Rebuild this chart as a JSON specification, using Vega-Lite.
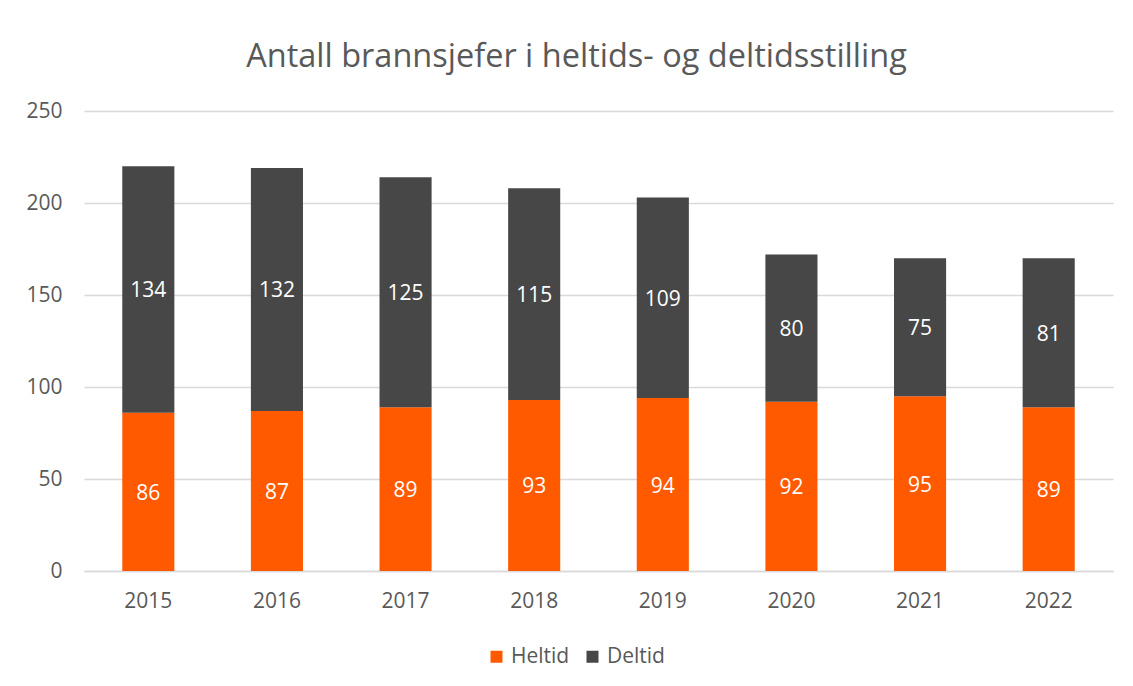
{
  "$schema": "https://vega.github.io/schema/vega-lite/v6.json",
  "autosize": "none",
  "width": 1029,
  "height": 460,
  "padding": {"left": 84, "top": 111, "right": 20, "bottom": 115},
  "background": "white",
  "title": {
    "text": "Antall brannsjefer i heltids- og deltidsstilling",
    "fontSize": 32.5,
    "font": "Open Sans",
    "fontWeight": "normal",
    "color": "#595959",
    "anchor": "middle",
    "dx": -22,
    "baseline": "alphabetic",
    "offset": 1
  },
  "data": {
    "values": [
      {"year": "2015", "type": "Heltid", "value": 86, "order": 1},
      {"year": "2015", "type": "Deltid", "value": 134, "order": 2},
      {"year": "2016", "type": "Heltid", "value": 87, "order": 1},
      {"year": "2016", "type": "Deltid", "value": 132, "order": 2},
      {"year": "2017", "type": "Heltid", "value": 89, "order": 1},
      {"year": "2017", "type": "Deltid", "value": 125, "order": 2},
      {"year": "2018", "type": "Heltid", "value": 93, "order": 1},
      {"year": "2018", "type": "Deltid", "value": 115, "order": 2},
      {"year": "2019", "type": "Heltid", "value": 94, "order": 1},
      {"year": "2019", "type": "Deltid", "value": 109, "order": 2},
      {"year": "2020", "type": "Heltid", "value": 92, "order": 1},
      {"year": "2020", "type": "Deltid", "value": 80, "order": 2},
      {"year": "2021", "type": "Heltid", "value": 95, "order": 1},
      {"year": "2021", "type": "Deltid", "value": 75, "order": 2},
      {"year": "2022", "type": "Heltid", "value": 89, "order": 1},
      {"year": "2022", "type": "Deltid", "value": 81, "order": 2}
    ]
  },
  "encoding": {
    "x": {
      "field": "year",
      "type": "nominal",
      "scale": {"paddingInner": 0.595, "paddingOuter": 0.2975},
      "axis": {
        "title": null,
        "labelAngle": 0,
        "labelFontSize": 21,
        "labelFont": "Open Sans",
        "labelColor": "#595959",
        "labelPadding": 19,
        "ticks": false,
        "domainColor": "#d9d9d9",
        "domainWidth": 1.5
      }
    },
    "y": {
      "field": "value",
      "type": "quantitative",
      "stack": "zero",
      "scale": {"domain": [0, 250]},
      "axis": {
        "title": null,
        "values": [0, 50, 100, 150, 200, 250],
        "labelFontSize": 21,
        "labelFont": "Open Sans",
        "labelColor": "#595959",
        "labelPadding": 22,
        "ticks": false,
        "domain": false,
        "gridColor": "#d9d9d9",
        "gridWidth": 1.5
      }
    },
    "order": {"field": "order", "type": "quantitative"}
  },
  "layer": [
    {
      "mark": {"type": "bar"},
      "encoding": {
        "color": {
          "field": "type",
          "type": "nominal",
          "scale": {"domain": ["Heltid", "Deltid"], "range": ["#FF5A00", "#474747"]},
          "legend": {
            "title": null,
            "orient": "none",
            "direction": "horizontal",
            "legendX": 402,
            "legendY": 535,
            "symbolType": "square",
            "symbolSize": 144,
            "symbolStrokeWidth": 0,
            "labelFontSize": 21,
            "labelFont": "Open Sans",
            "labelColor": "#595959",
            "labelOffset": 4,
            "columnPadding": 12
          }
        }
      }
    },
    {
      "mark": {"type": "text", "color": "white", "fontSize": 21, "font": "Open Sans", "baseline": "middle", "dy": 2},
      "encoding": {
        "y": {"field": "value", "type": "quantitative", "stack": "zero", "bandPosition": 0.5},
        "text": {"field": "value", "type": "quantitative"}
      }
    }
  ],
  "config": {"view": {"stroke": null}}
}
